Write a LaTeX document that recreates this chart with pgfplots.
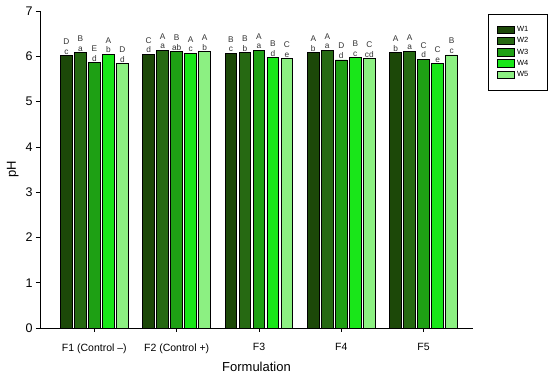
\documentclass[border=0pt]{standalone}
\usepackage{pgfplots}
\usepackage{pgfplotstable}
\pgfplotsset{compat=1.18}
\usepackage{fontspec}
\setmainfont{Liberation Sans}
\definecolor{cA}{RGB}{28,72,8}
\definecolor{cB}{RGB}{38,105,18}
\definecolor{cC}{RGB}{30,160,20}
\definecolor{cD}{RGB}{25,230,25}
\definecolor{cE}{RGB}{140,240,130}

\pgfplotstableread{
x y lab
0 6.01 D/c
1 6.04 C/d
2 6.07 B/c
3 6.08 A/b
4 6.08 A/b
}\wone
\pgfplotstableread{
x y lab
0 6.08 B/a
1 6.13 A/a
2 6.08 B/b
3 6.13 A/a
4 6.11 A/a
}\wtwo
\pgfplotstableread{
x y lab
0 5.86 E/d
1 6.10 B/ab
2 6.13 A/a
3 5.92 D/d
4 5.94 C/d
}\wthree
\pgfplotstableread{
x y lab
0 6.04 A/b
1 6.07 A/c
2 5.97 B/d
3 5.97 B/c
4 5.84 C/e
}\wfour
\pgfplotstableread{
x y lab
0 5.84 D/d
1 6.10 A/b
2 5.95 C/e
3 5.95 C/cd
4 6.03 B/c
}\wfive

\def\splitlab#1{\expandafter\splitlabi#1\relax}
\def\splitlabi#1/#2\relax{#1\\#2}

\pgfplotsset{lbl/.style={
  draw=black, line width=0.8pt,
  point meta=explicit symbolic,
  nodes near coords={\splitlab{\pgfplotspointmeta}},
  nodes near coords style={font=\fontsize{8.3}{9.5}\selectfont, align=center, inner sep=1pt, text=black!80},
}}

\begin{document}
\begin{tikzpicture}
\begin{axis}[
  scale only axis,
  width=433pt, height=317pt,
  xmin=-0.66, xmax=4.6,
  ymin=0, ymax=7,
  axis lines=left,
  axis line style={-, black, line width=0.6pt},
  tick align=outside,
  major tick length=4pt,
  tick style={black, line width=0.6pt},
  xtick={0,1,2,3,4},
  xticklabels={F1 (Control –),F2 (Control +),F3,F4,F5},
  ytick={0,1,...,7},
  x tick label style={font=\fontsize{10.5}{12}\selectfont, yshift=-8pt},
  y tick label style={font=\fontsize{12.5}{14}\selectfont},
  /pgf/number format/assume math mode=true,
  xlabel={Formulation},
  ylabel={pH},
  xlabel style={font=\fontsize{13}{15}\selectfont, yshift=-2pt},
  ylabel style={font=\fontsize{13}{15}\selectfont},
  ybar=2.3pt,
  bar width=11.7pt,
  legend style={at={(1.035,0.99)}, anchor=north west, draw=black, line width=0.6pt,
    font=\fontsize{7.5}{8}\selectfont, inner xsep=9pt, inner ysep=10pt, row sep=0.5pt,
    cells={anchor=west}, text width=19pt},
  legend image code/.code={\draw[#1, line width=0.7pt] (0pt,-3.7pt) rectangle (17pt,3.7pt);},
]
\addplot[fill=cA, lbl] table[x=x,y=y,meta=lab] {\wone};
\addplot[fill=cB, lbl] table[x=x,y=y,meta=lab] {\wtwo};
\addplot[fill=cC, lbl] table[x=x,y=y,meta=lab] {\wthree};
\addplot[fill=cD, lbl] table[x=x,y=y,meta=lab] {\wfour};
\addplot[fill=cE, lbl] table[x=x,y=y,meta=lab] {\wfive};
\legend{W1,W2,W3,W4,W5}
\end{axis}
\pgfresetboundingbox
\useasboundingbox (current axis.south west) ++(-40pt,-50pt) rectangle ++(550pt,378pt);
\end{tikzpicture}
\end{document}
